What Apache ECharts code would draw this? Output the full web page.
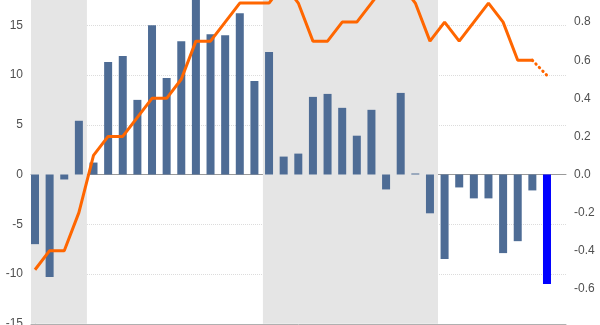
<!DOCTYPE html>
<html>
<head>
<meta charset="utf-8">
<script src="https://cdn.jsdelivr.net/npm/echarts@6/dist/echarts.min.js"></script>
<style>html,body{margin:0;padding:0;background:#fff}#c{width:600px;height:325px}</style>
</head>
<body>
<div id="c"></div>
<script>
// Bar series (left axis)
const barValues = [-7.0, -10.3, -0.5, 5.4, 1.2, 11.3, 11.9, 7.5, 15.0, 9.7, 13.4, 19.0, 14.1, 14.0, 16.2, 9.4, 12.3, 1.8, 2.1, 7.8, 8.1, 6.7, 3.9, 6.5, -1.5, 8.2, 0.1, -3.9, -8.5, -1.3, -2.4, -2.4, -7.9, -6.7, -1.6, -11.0];
// Line series (right axis)
const lineValues = [-0.5, -0.4, -0.4, -0.2, 0.1, 0.2, 0.2, 0.3, 0.4, 0.4, 0.5, 0.7, 0.7, 0.8, 0.9, 0.9, 0.9, 1.0, 0.9, 0.7, 0.7, 0.8, 0.8, 0.9, 1.0, 1.0, 0.9, 0.7, 0.8, 0.7, 0.8, 0.9, 0.8, 0.6, 0.6, 0.52];
// Index where the line becomes a projection (dotted)
const projectionStart = 34;
// Highlighted (latest) bar
const highlightIndex = 35;
// Shaded periods, in period-index units
const shadedPeriods = [[-0.273, 3.55], [15.58, 27.55]];
// Axis ticks
const leftTicks = {min: -15, max: 20, interval: 5};
const rightTicks = {min: -0.8, max: 1.0, interval: 0.2};
const xRange = {min: -0.273, max: 36.3};

const font = 'Liberation Sans, Arial, sans-serif';
const barData = barValues.map((v, i) => ({
  value: [i, v],
  itemStyle: i === highlightIndex ? {color: '#0000ff'} : undefined
}));
const solidLine = lineValues.slice(0, projectionStart + 1).map((v, i) => [i, v]);
const dottedLine = lineValues.slice(projectionStart).map((v, i) => [i + projectionStart, v]);

const chart = echarts.init(document.getElementById('c'), null, {renderer: 'canvas'});
chart.setOption({
  animation: false,
  backgroundColor: '#fff',
  grid: [
    {left: 31, right: 34, top: -24.5, height: 348.25, containLabel: false, outerBoundsMode: 'none'},
    {left: 31, right: 34, top: -16, height: 342.9, containLabel: false, outerBoundsMode: 'none'}
  ],
  xAxis: [
    {type: 'value', gridIndex: 0, min: xRange.min, max: xRange.max,
     axisLine: {show: true, onZero: false, lineStyle: {color: '#b0b0b0', width: 1}},
     axisTick: {show: false}, axisLabel: {show: false}, splitLine: {show: false}},
    {type: 'value', gridIndex: 1, min: xRange.min, max: xRange.max,
     axisLine: {show: true, onZero: true, lineStyle: {color: '#9a9a9a', width: 1}},
     axisTick: {show: false}, axisLabel: {show: false}, splitLine: {show: false}}
  ],
  yAxis: [
    {type: 'value', gridIndex: 0, min: leftTicks.min, max: leftTicks.max, interval: leftTicks.interval,
     axisLine: {show: true, lineStyle: {color: '#c4c4c4'}},
     axisTick: {show: false},
     axisLabel: {color: '#505050', fontSize: 12, fontFamily: font, margin: 8},
     splitLine: {show: true, lineStyle: {color: '#dcdcdc', type: 'dotted', width: 1}}},
    {type: 'value', gridIndex: 1, position: 'right', min: rightTicks.min, max: rightTicks.max, interval: rightTicks.interval,
     axisLine: {show: true, lineStyle: {color: '#c4c4c4'}},
     axisTick: {show: true, length: 4, lineStyle: {color: '#b0b0b0'}},
     axisLabel: {color: '#505050', fontSize: 12, fontFamily: font, margin: 8, showMinLabel: false,
       formatter: v => v.toFixed(1)},
     splitLine: {show: false}}
  ],
  series: [
    {type: 'line', xAxisIndex: 0, yAxisIndex: 0, data: [], z: 0, silent: true,
     markArea: {silent: true, itemStyle: {color: '#e5e5e5'},
       data: shadedPeriods.map(p => [{xAxis: p[0]}, {xAxis: p[1]}])}},
    {type: 'bar', xAxisIndex: 0, yAxisIndex: 0, data: barData, barWidth: 8, z: 2,
     itemStyle: {color: '#4e6c95'}},
    {type: 'line', xAxisIndex: 1, yAxisIndex: 1, data: solidLine, showSymbol: false, z: 4,
     lineStyle: {color: '#ff6600', width: 3}},
    {type: 'line', xAxisIndex: 1, yAxisIndex: 1, data: dottedLine, showSymbol: false, z: 4,
     lineStyle: {color: '#ff6600', width: 3, type: [0.5, 4.5], cap: 'round'}}
  ]
});
</script>
</body>
</html>
